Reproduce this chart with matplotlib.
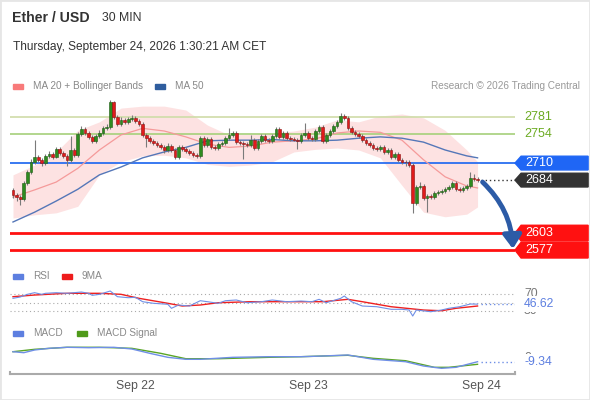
import matplotlib
matplotlib.use("Agg")
import matplotlib.pyplot as plt
from matplotlib.patches import Polygon, Rectangle
from matplotlib.lines import Line2D

plt.rcParams['font.family'] = ['Liberation Sans', 'DejaVu Sans']

W, H = 590, 400

# --- price data (30 min candles), open = previous close ---
first_open = 2669
closes = [2661, 2658, 2655, 2679, 2696, 2712, 2719, 2715, 2710, 2721,
          2724, 2719, 2731, 2725, 2721, 2715, 2730, 2722, 2754, 2762,
          2756, 2750, 2744, 2751, 2756, 2763, 2765, 2803, 2780, 2770,
          2776, 2773, 2777, 2779, 2774, 2770, 2753, 2748, 2744, 2741,
          2737, 2734, 2730, 2736, 2730, 2719, 2734, 2731, 2728, 2725,
          2722, 2721, 2748, 2737, 2747, 2734, 2733, 2739, 2741, 2748,
          2753, 2756, 2742, 2741, 2739, 2737, 2745, 2733, 2744, 2751,
          2745, 2744, 2751, 2762, 2750, 2756, 2748, 2747, 2746, 2744,
          2753, 2756, 2748, 2747, 2759, 2765, 2744, 2753, 2759, 2766,
          2773, 2782, 2779, 2763, 2757, 2754, 2751, 2745, 2741, 2737,
          2733, 2731, 2734, 2727, 2730, 2719, 2724, 2715, 2712, 2711,
          2707, 2649, 2673, 2675, 2657, 2660, 2658, 2664, 2666, 2667,
          2670, 2673, 2679, 2670, 2669, 2672, 2675, 2687, 2686, 2684]
highs = [2672, 2664, 2662, 2682, 2699, 2716, 2745, 2723, 2718, 2724,
         2728, 2727, 2735, 2734, 2728, 2724, 2751, 2733, 2758, 2766,
         2765, 2759, 2753, 2755, 2760, 2767, 2769, 2806, 2805, 2783,
         2780, 2779, 2781, 2784, 2782, 2777, 2773, 2756, 2751, 2747,
         2744, 2740, 2737, 2740, 2739, 2733, 2738, 2737, 2734, 2731,
         2728, 2725, 2752, 2751, 2750, 2750, 2737, 2742, 2744, 2751,
         2763, 2759, 2759, 2745, 2744, 2742, 2753, 2748, 2747, 2754,
         2754, 2748, 2754, 2765, 2765, 2759, 2759, 2751, 2750, 2749,
         2756, 2771, 2759, 2751, 2762, 2768, 2768, 2756, 2762, 2769,
         2776, 2786, 2785, 2782, 2766, 2760, 2757, 2754, 2748, 2744,
         2740, 2736, 2737, 2737, 2733, 2733, 2727, 2727, 2718, 2715,
         2714, 2710, 2676, 2681, 2678, 2663, 2663, 2667, 2669, 2670,
         2673, 2676, 2682, 2682, 2673, 2675, 2678, 2696, 2693, 2689]
lows = [2657, 2652, 2646, 2652, 2676, 2693, 2709, 2711, 2706, 2707,
        2718, 2716, 2717, 2722, 2718, 2705, 2712, 2719, 2720, 2751,
        2753, 2747, 2741, 2741, 2748, 2753, 2760, 2762, 2777, 2766,
        2767, 2769, 2770, 2774, 2771, 2766, 2750, 2734, 2741, 2738,
        2734, 2731, 2726, 2727, 2727, 2716, 2716, 2728, 2725, 2722,
        2719, 2717, 2718, 2734, 2734, 2731, 2730, 2730, 2736, 2738,
        2745, 2750, 2739, 2738, 2716, 2734, 2734, 2730, 2730, 2741,
        2742, 2741, 2741, 2748, 2747, 2747, 2745, 2744, 2743, 2731,
        2741, 2750, 2745, 2744, 2744, 2756, 2741, 2741, 2750, 2756,
        2763, 2770, 2776, 2760, 2754, 2751, 2748, 2742, 2738, 2734,
        2730, 2728, 2728, 2724, 2724, 2716, 2716, 2712, 2709, 2706,
        2704, 2634, 2646, 2670, 2654, 2636, 2655, 2655, 2661, 2663,
        2664, 2667, 2670, 2667, 2666, 2666, 2669, 2672, 2683, 2681]

# moving averages / bollinger read at every 6th candle
band_idx = [0, 6, 12, 18, 24, 30, 36, 42, 48, 54, 60, 66,
            72, 78, 84, 90, 96, 102, 108, 114, 120, 126, 129]
ma20 = [2658, 2669, 2681, 2702, 2730, 2753, 2763, 2759, 2750, 2739, 2734, 2736,
        2742, 2744, 2747, 2756, 2759, 2757, 2745, 2715, 2689, 2675, 2672]
ma50 = [2620, 2635, 2652, 2670, 2692, 2704, 2718, 2727, 2734, 2744, 2745, 2745,
        2746, 2744, 2744, 2745, 2748, 2750, 2748, 2742, 2730, 2721, 2718]
bb_upper = [2692, 2707, 2727, 2760, 2773, 2794, 2797, 2797, 2791, 2768, 2753, 2754,
            2756, 2759, 2765, 2776, 2773, 2782, 2785, 2779, 2760, 2730, 2712]
bb_lower = [2626, 2631, 2634, 2644, 2692, 2712, 2721, 2722, 2718, 2708, 2705, 2707,
            2712, 2727, 2731, 2733, 2730, 2718, 2676, 2635, 2628, 2632, 2643]

resistances = [2781, 2754]
pivot = 2710
last_price = 2684
supports = [2603, 2577]
arrow_target = 2579

# RSI and its 9 period MA
rsi_idx = [0, 2, 4, 6, 8, 9, 12, 15, 19, 21, 22, 24, 27, 29, 32, 34, 36, 39, 43, 44,
           46, 49, 52, 54, 57, 59, 62, 65, 69, 72, 76, 80, 83, 85, 87, 91, 92, 94,
           97, 101, 105, 108, 110, 111, 112, 116, 119, 121, 124, 127, 129]
rsi_val = [60.5, 63.7, 70.1, 74.0, 70.0, 72.5, 74.0, 72.5, 75.6, 72.5, 67.7, 70.0,
           78.0, 64.4, 62.0, 62.9, 52.4, 48.6, 46.2, 36.6, 44.5, 42.1, 54.8, 52.4,
           48.6, 54.8, 56.5, 50.0, 52.4, 56.5, 52.4, 54.0, 52.4, 58.1, 50.0, 60.5,
           66.0, 52.4, 42.1, 40.4, 34.2, 34.2, 32.5, 18.1, 32.5, 28.4, 32.5, 36.6,
           40.4, 46.9, 46.62]
rsi_ma_idx = [0, 6, 15, 24, 30, 35, 43, 47, 52, 57, 66, 77, 86, 93, 97, 105, 114, 119, 123, 129]
rsi_ma_val = [64.4, 68.4, 72.5, 72.5, 70.1, 60.5, 48.6, 42.1, 44.5, 50.0, 52.4, 52.4,
              52.4, 58.1, 52.4, 40.4, 32.5, 30.8, 36.6, 42.1]
rsi_levels = [70, 50, 30]

# MACD
macd_idx = [0, 3, 6, 10, 15, 21, 28, 33, 38, 43, 48, 52, 61, 71, 80, 86, 93, 100,
            109, 114, 119, 123, 129]
macd_val = [12.9, 10.7, 16.7, 20.4, 22.7, 21.8, 22.7, 18.9, 9.3, 0.4, -4.0, -4.0, 0.4,
            1.8, 1.8, 3.3, 5.6, -4.0, -9.3, -18.9, -24.0, -21.8, -9.34]
sig_idx = [0, 6, 15, 24, 33, 41, 48, 57, 71, 80, 86, 93, 100, 109, 117, 121, 129]
sig_val = [12.9, 18.2, 22.7, 22.7, 20.4, 9.3, -2.7, -2.7, 0.4, 1.8, 3.3, 4.9, -1.8,
           -7.1, -21.8, -21.8, -15.1]

day_ticks = [34, 82, 130]
day_labels = ['Sep 22', 'Sep 23', 'Sep 24']

XLIM = (-0.83, 139.4)
X_TIP, X_BOX, X_END = 139.4, 141.1, 159.7
GREEN, RED = '#2e8b1f', '#e01b1b'


def panel(fig, top, bottom):
    ax = fig.add_axes([10 / W, 1 - bottom / H, 505 / W, (bottom - top) / H])
    ax.set_xlim(*XLIM)
    ax.axis('off')
    return ax


def tag(ax, y, text, color, half):
    pts = [(X_TIP, y), (X_BOX, y + half), (X_END, y + half), (X_END, y - half), (X_BOX, y - half)]
    ax.add_patch(Polygon(pts, closed=True, color=color, clip_on=False, zorder=5))
    ax.text(X_BOX + 1.3, y, text, color='white', fontsize=9, va='center', ha='left',
            clip_on=False, zorder=6)


def legend_item(fig, x, y, color, text):
    fig.patches.append(Rectangle((x / W, 1 - (y + 2.5) / H), 10 / W, 5 / H, color=color,
                                 transform=fig.transFigure, figure=fig))
    fig.text((x + 20) / W, 1 - y / H, text, color='#888888', fontsize=7.2, va='center')


def main():
    fig = plt.figure(figsize=(W / 100, H / 100), dpi=100)
    fig.patch.set_facecolor('white')
    fig.patches.append(Rectangle((0, 0), 1, 1, fill=False, edgecolor='#e6e6e6', lw=2,
                                 transform=fig.transFigure, figure=fig))

    fig.text(12 / W, 1 - 18 / H, 'Ether / USD', fontsize=10.2, fontweight='bold',
             color='#333333', va='center')
    fig.text(102 / W, 1 - 18 / H, '30 MIN', fontsize=8.8, color='#333333', va='center')
    fig.text(13 / W, 1 - 47 / H, 'Thursday, September 24, 2026 1:30:21 AM CET', fontsize=8.6,
             color='#333333', va='center')
    legend_item(fig, 13, 86, '#f87a7a', 'MA 20 + Bollinger Bands')
    legend_item(fig, 155, 86, '#2f5d9e', 'MA 50')
    fig.text(580 / W, 1 - 86 / H, 'Research \u00a9 2026 Trading Central', fontsize=7.2,
             color='#999999', va='center', ha='right')

    # ---- price panel ----
    ax = panel(fig, 95, 258)
    ax.set_ylim(2565, 2814)
    ax.fill_between(band_idx, bb_lower, bb_upper, color='#fde2e2', lw=0, zorder=1)
    ax.plot(band_idx, ma20, color='#f59a9a', lw=0.9, zorder=2)
    ax.plot(band_idx, ma50, color='#5577b8', lw=1.0, zorder=2)

    ax.axhline(resistances[0], color='#cfdca8', lw=1.2, zorder=1.5)
    ax.axhline(resistances[1], color='#a6d07a', lw=1.2, zorder=1.5)
    ax.axhline(pivot, color='#2a6ef0', lw=1.3, zorder=1.5)
    for s in supports:
        ax.axhline(s, color='#ff1111', lw=2, zorder=1.5)

    opens = [first_open] + closes[:-1]
    for i, (o, c, hi, lo) in enumerate(zip(opens, closes, highs, lows)):
        col = GREEN if c >= o else RED
        edge = '#1d5a12' if c >= o else '#8a1010'
        ax.vlines(i, lo, hi, color='#7a7a7a', lw=0.8, zorder=3)
        ax.bar(i, max(abs(c - o), 1.2), bottom=min(o, c), width=0.75, color=col,
               edgecolor=edge, lw=0.4, zorder=4)

    n = len(closes)
    ax.plot([n, X_TIP], [last_price, last_price], ls=(0, (1, 2)), color='#333333', lw=1)

    for r in resistances:
        ax.text(X_BOX + 0.8, r, str(r), color='#6cab22', fontsize=9, va='center',
                clip_on=False)
    tag(ax, pivot, str(pivot), '#1f66f5', 10.5)
    tag(ax, last_price, str(last_price), '#333333', 10.5)
    for s in supports:
        tag(ax, s, str(s), '#ff1111', 12)

    ax.annotate('', xy=(138.8, arrow_target), xytext=(n + 0.4, last_price - 3),
                arrowprops=dict(arrowstyle='-|>,head_length=0.8,head_width=0.55',
                                color='#2c5ba6', lw=3.5, shrinkA=0, shrinkB=0,
                                connectionstyle='arc3,rad=-0.2'), zorder=7)

    # ---- RSI panel ----
    legend_item(fig, 13, 276, '#5d7fe0', 'RSI')
    legend_item(fig, 62, 276, '#ee1c1c', '9MA')
    ar = panel(fig, 285, 318)
    ar.set_ylim(13.4, 92.4)
    for lv in rsi_levels:
        ar.axhline(lv, color='#aaaaaa', ls=(0, (1, 2.5)), lw=0.8)
    ar.plot(rsi_ma_idx, rsi_ma_val, color='#ee2020', lw=1.0)
    ar.plot(rsi_idx, rsi_val, color='#6f8fe6', lw=0.8)
    ar.plot([n, X_TIP], [rsi_val[-1]] * 2, ls=(0, (1, 2)), color='#6f8fe6', lw=1)
    for lv in (70, 30):
        ar.text(X_BOX + 0.8, lv, str(lv), color='#777777', fontsize=8.8, va='center',
                clip_on=False)
    ar.text(X_BOX + 0.8, rsi_val[-1], '%.2f' % rsi_val[-1], color='#5d7fe0', fontsize=8.8,
            va='center', clip_on=False, zorder=8,
            bbox=dict(facecolor='white', edgecolor='none', pad=1.5))

    # ---- MACD panel ----
    legend_item(fig, 13, 333, '#5d7fe0', 'MACD')
    legend_item(fig, 77, 333, '#4f9a1a', 'MACD Signal')
    am = panel(fig, 340, 372)
    am.set_ylim(-32.2, 38.9)
    am.plot(sig_idx, sig_val, color='#5aa526', lw=1.0)
    am.plot(macd_idx, macd_val, color='#6f8fe6', lw=1.0)
    am.plot([n, X_TIP], [macd_val[-1]] * 2, ls=(0, (1, 2)), color='#6f8fe6', lw=1)
    am.text(X_BOX + 0.8, 0, '0', color='#777777', fontsize=8.8, va='center', clip_on=False)
    am.text(X_BOX + 0.8, macd_val[-1], '%.2f' % macd_val[-1], color='#5d7fe0', fontsize=8.8,
            va='center', clip_on=False, zorder=8,
            bbox=dict(facecolor='white', edgecolor='none', pad=1.5))

    # ---- time axis ----
    ax_t = fig.add_axes([10 / W, 1 - 374 / H, 505 / W, 0.001])
    ax_t.set_xlim(*XLIM)
    for side in ('top', 'left', 'right'):
        ax_t.spines[side].set_visible(False)
    ax_t.spines['bottom'].set_color('#aaaaaa')
    ax_t.spines['bottom'].set_linewidth(1.5)
    ax_t.set_yticks([])
    ax_t.set_xticks(day_ticks)
    ax_t.set_xticklabels(day_labels, fontsize=8.8, color='#555555')
    ax_t.tick_params(axis='x', length=0, pad=4)
    for xe in XLIM:
        ax_t.add_line(Line2D([xe, xe], [0, 5], color='#aaaaaa', lw=1.5, clip_on=False,
                             transform=ax_t.get_xaxis_transform()))
    fig.savefig('out.png', dpi=100, facecolor='white')


if __name__ == "__main__":
    main()
